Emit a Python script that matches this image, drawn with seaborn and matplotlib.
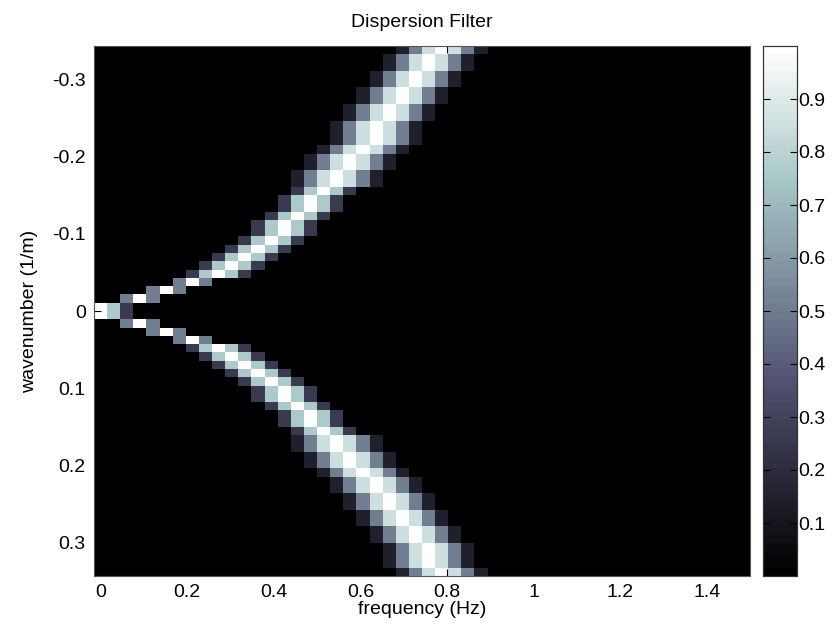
import numpy as np
import pandas as pd
import matplotlib
matplotlib.use("Agg")
import matplotlib.pyplot as plt
import seaborn as sns

# sampling of the filter grid
n_freq = 50
freq_step = 1.0 / 33.0      # Hz
n_wave = 64
wave_step = 0.01073         # 1/m

# taper shapes used across the pass band
taper3 = [0.5, 1.0, 0.5]
taper5 = [0.25, 0.75, 1.0, 0.75, 0.25]
taper7 = [0.146, 0.5, 0.854, 1.0, 0.854, 0.5, 0.146]

# centre frequency bin and taper length of every wavenumber row, top to bottom
band_centre = [
    26, 25, 25, 24, 24, 23, 23, 22, 22, 21, 21, 21, 20, 19, 19, 18,
    18, 17, 16, 16, 15, 14, 14, 13, 12, 11, 10, 9, 7, 5, 3, 0,
    0, 3, 5, 7, 9, 10, 11, 12, 13, 14, 14, 15, 16, 16, 17, 18,
    18, 19, 19, 20, 21, 21, 22, 22, 23, 23, 24, 24, 25, 25, 25, 26,
]
band_length = [
    7, 7, 7, 7, 7, 7, 7, 7, 7, 7, 7, 7, 7, 7, 7, 7,
    7, 5, 5, 5, 5, 5, 5, 5, 5, 5, 5, 5, 3, 3, 3, 5,
    5, 3, 3, 3, 5, 5, 5, 5, 5, 5, 5, 5, 5, 5, 5, 7,
    7, 7, 7, 7, 7, 7, 7, 7, 7, 7, 7, 7, 7, 7, 7, 7,
]

freq_ticks = [0, 0.2, 0.4, 0.6, 0.8, 1.0, 1.2, 1.4]
freq_labels = ["0", "0.2", "0.4", "0.6", "0.8", "1", "1.2", "1.4"]
wave_ticks = [-0.3, -0.2, -0.1, 0.0, 0.1, 0.2, 0.3]
wave_labels = ["-0.3", "-0.2", "-0.1", "0", "0.1", "0.2", "0.3"]
cbar_ticks = [0.1, 0.2, 0.3, 0.4, 0.5, 0.6, 0.7, 0.8, 0.9]

# assemble the filter matrix
tapers = {3: taper3, 5: taper5, 7: taper7}
filt = np.zeros((n_wave, n_freq))
for row, (c, length) in enumerate(zip(band_centre, band_length)):
    half = length // 2
    for i, v in enumerate(tapers[length]):
        col = c - half + i
        if 0 <= col < n_freq:
            filt[row, col] = v

freqs = np.arange(n_freq) * freq_step
waves = (np.arange(n_wave) - (n_wave - 1) / 2) * wave_step
df = pd.DataFrame(filt, index=np.round(waves, 4), columns=np.round(freqs, 4))

plt.rcParams["font.family"] = ["Liberation Sans", "DejaVu Sans"]
FS = 14

W, H = 838, 639
fig = plt.figure(figsize=(W / 100, H / 100), dpi=100)
ax = fig.add_axes([94 / W, 1 - 576 / H, 656 / W, 530 / H])
cax = fig.add_axes([763 / W, 1 - 576 / H, 34 / W, 530 / H])

cmap = plt.get_cmap("bone", 64)
sns.heatmap(df, ax=ax, cbar_ax=cax, cmap=cmap, vmin=0, vmax=1,
            xticklabels=False, yticklabels=False)

# map data values to heatmap cell coordinates
ax.set_xticks([f / freq_step + 0.5 for f in freq_ticks])
ax.set_xticklabels(freq_labels, fontsize=FS)
ax.set_yticks([k / wave_step + n_wave / 2 for k in wave_ticks])
ax.set_yticklabels(wave_labels, fontsize=FS, rotation=0)
ax.tick_params(direction="in", length=5, width=0.8, color="black",
               top=True, right=True, pad=6)
for s in ax.spines.values():
    s.set_visible(True)
    s.set_color("#555555")
    s.set_linewidth(0.8)

ax.set_title("Dispersion Filter", fontsize=FS, pad=14)
ax.set_xlabel("frequency (Hz)", fontsize=FS, labelpad=0)
ax.set_ylabel("wavenumber (1/m)", fontsize=FS, labelpad=10)

cax.set_yticks(cbar_ticks)
cax.set_yticklabels([f"{t:.1f}" for t in cbar_ticks], fontsize=FS)
cax.tick_params(direction="in", length=5, width=0.8, color="black",
                left=True, right=True, labelleft=False, labelright=True, pad=1)
for s in cax.spines.values():
    s.set_visible(True)
    s.set_color("#333333")
    s.set_linewidth(0.8)

fig.savefig("out.png", dpi=100)
